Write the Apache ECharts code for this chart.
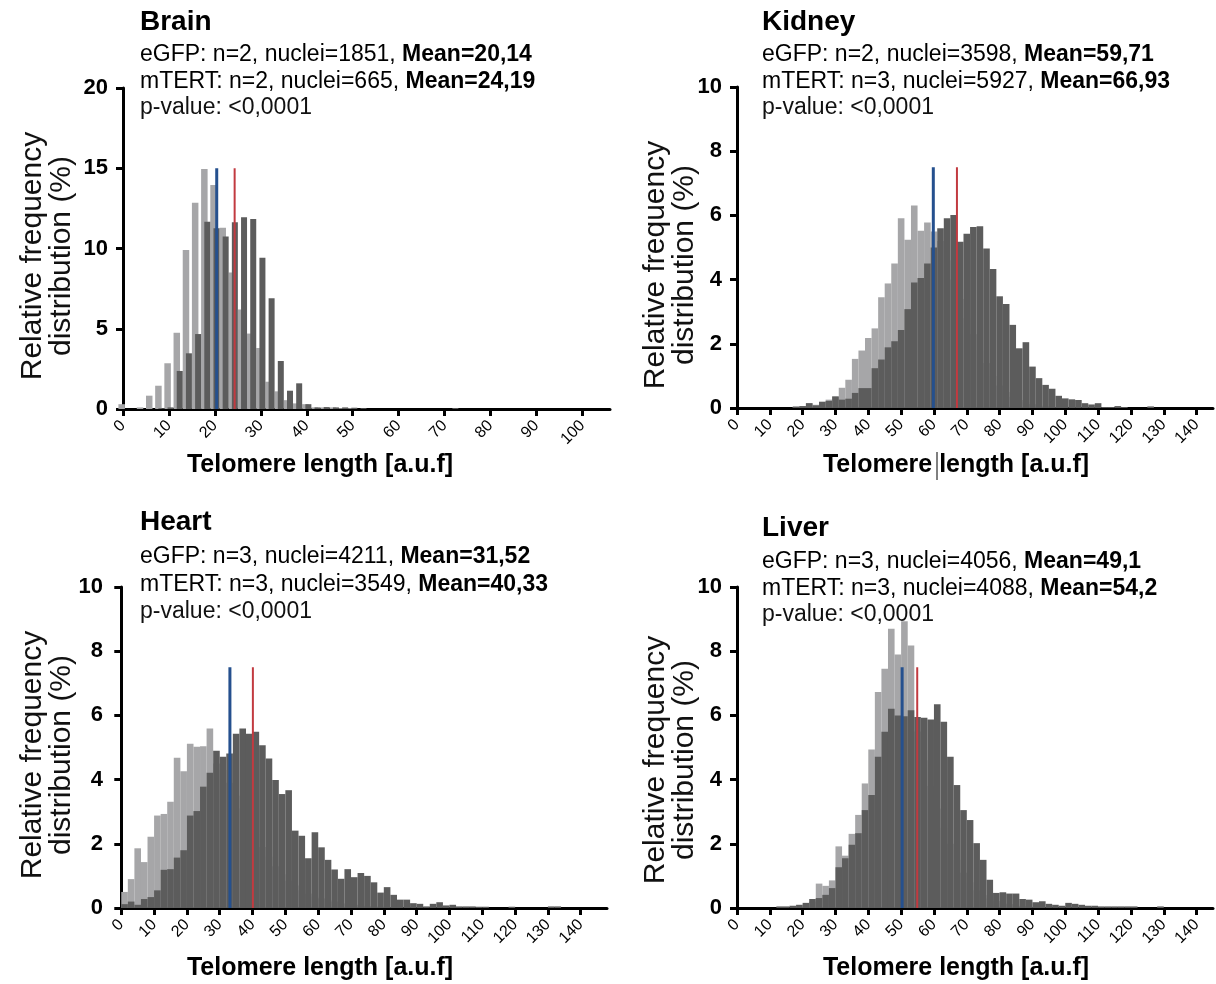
<!DOCTYPE html>
<html><head><meta charset="utf-8">
<script src="https://cdn.jsdelivr.net/npm/echarts@6/dist/echarts.min.js"></script>
<style>html,body{margin:0;padding:0;background:#fff}#c{width:1216px;height:984px}</style>
</head><body><div id="c"></div>
<script>
// ---------- DATA ----------
const brainTicks = [0,10,20,30,40,50,60,70,80,90,100];
const organTicks = [0,10,20,30,40,50,60,70,80,90,100,110,120,130,140];

const brainBins = [0,2,4,6,8,10,12,14,16,18,20,22,24,26,28,30,32,34,36,38,40,42,44,46,48,50,52,54,56,58,60,62,64,66,68,70,72,74];
const brainEGFP = [0.3,0,0.1,0.83,1.45,2.85,4.75,9.9,12.85,14.95,13.95,11.3,8.5,6.2,4.7,3.8,1.7,1.1,0.55,0.35,0.3,0.1,0.1,0.1,0.05,0.05,0,0,0,0,0,0,0,0,0,0,0,0];
const brainMTERT = [0,0,0,0,0.05,0.1,2.37,3.47,4.67,11.67,11.26,10.74,11.63,11.94,11.84,9.43,6.9,2.99,1.14,1.6,0.3,0.1,0.12,0.1,0.1,0.08,0.05,0,0,0,0,0,0,0,0,0,0.06,0];

const kidneyBins = [2,4,6,8,10,12,14,16,18,20,22,24,26,28,30,32,34,36,38,40,42,44,46,48,50,52,54,56,58,60,62,64,66,68,70,72,74,76,78,80,82,84,86,88,90,92,94,96,98,100,102,104,106,108,110,112,114,116,118,120,122,124,126,128,130,132,134,136,138,140,142,144];
const kidneyEGFP = [0,0,0,0,0,0,0,0,
  0.05,0.06,0.15,0.1,0.2,0.26,0.36,0.63,0.88,1.53,1.79,2.18,2.48,3.45,3.88,4.5,5.91,5.24,6.31,5.52,5.78,5.5,
  5.2,4.6,4.0,3.4,2.8,2.3,1.8,1.4,1.0,0.7,0.5,0.35,0.25,0.18,0.12,0.08,0.05,0.03,
  0,0,0,0,0,0,0,0,0,0,0,0,0,0,0,0,0,0,0,0,0,0,0,0];
const kidneyMTERT = [0,0,0,0,0,0,0,0,
  0.04,0.06,0.15,0.08,0.19,0.22,0.36,0.26,0.29,0.47,0.62,0.62,1.24,1.51,1.89,2.08,2.43,3.08,3.91,4.05,4.5,5.0,
  5.6,5.91,6.01,5.18,5.43,5.64,5.66,4.97,4.33,3.48,3.24,2.59,1.86,2.05,1.29,0.93,0.72,0.6,
  0.38,0.3,0.27,0.25,0.15,0.11,0.15,0.03,0.03,0.06,0.03,0,0,0,0.05,0,0,0,0,0,0,0,0,0];

const heartBins = [1,3,5,7,9,11,13,15,17,19,21,23,25,27,29,31,33,35,37,39,41,43,45,47,49,51,53,55,57,59,61,63,65,67,69,71,73,75,77,79,81,83,85,87,89,91,93,95,97,99,101,103,105,107,109,111,113,115,117,119,121,123,125,127,129,131,133,135,137,139,141,143,145,147];
const heartEGFP = [0.5,0.9,1.86,1.43,2.22,2.88,2.93,3.31,4.68,4.26,5.12,5.02,5.04,5.59,
  4.5,4.3,3.9,3.5,3.1,2.7,2.3,1.9,1.6,1.3,1.05,0.85,0.7,0.55,0.45,0.35,0.3,0.25,0.2,0.15,0.12,0.1,0.08,0.06,0.05,0.04,0.03,
  0,0,0,0,0,0,0,0,0,0,0,0,0,0,0,0,0,0,0,0,0,0,0,0,0,0,0,0,0,0,0,0,0];
const heartMTERT = [0.12,0.2,0.1,0.28,0.34,0.55,1.19,1.21,1.57,1.8,2.88,3.02,3.78,4.21,4.9,4.71,4.81,5.43,5.59,5.43,5.49,5.07,4.66,3.99,3.55,3.67,2.41,2.25,1.55,2.36,1.89,1.5,1.2,0.91,1.21,0.96,1.09,1.0,0.8,0.48,0.65,0.41,0.26,0.26,0.15,0.13,0.05,0.13,0.18,0.08,0.1,0.05,0.05,0.05,0.04,0.04,0,0,0,0.04,0,0,0,0,0,0.05,0.05,0,0,0,0,0,0,0];

const liverBins = [1,3,5,7,9,11,13,15,17,19,21,23,25,27,29,31,33,35,37,39,41,43,45,47,49,51,53,55,57,59,61,63,65,67,69,71,73,75,77,79,81,83,85,87,89,91,93,95,97,99,101,103,105,107,109,111,113,115,117,119,121,123,125,127,129,131,133,135,137,139,141,143];
const liverEGFP = [0,0,0,0,0,0,0,0,0,
  0.05,0.1,0.2,0.76,0.69,0.86,1.92,1.63,2.31,2.9,3.88,4.94,6.73,7.45,8.7,7.9,8.93,8.18,5.5,4.6,3.8,3.1,2.5,2.0,1.5,1.1,0.8,0.55,0.4,0.3,0.22,0.16,0.12,0.08,0.06,0.04,
  0,0,0,0,0,0,0,0,0,0,0,0,0,0,0,0,0,0,0,0,0,0,0,0,0,0,0];
const liverMTERT = [0,0,0,0,0,0,
  0.05,0.05,0.07,0.1,0.16,0.28,0.31,0.41,0.62,1.27,1.55,1.97,2.33,3.05,3.52,4.71,5.49,6.21,6.0,5.97,6.16,5.95,5.93,5.87,6.35,5.8,4.71,3.83,3.05,2.74,2.02,1.5,0.88,0.47,0.49,0.45,0.45,0.28,0.26,0.18,0.21,0.13,0.1,0.07,0.16,0.13,0.1,0.07,0.07,0.05,0.05,0.05,0.05,0.05,0.05,
  0,0,0,0.05,0,0,0,0,0,0,0];

// mean marker lines as drawn: [eGFP x, mTERT x], and their top
const brainMeanLines = [20.4, 24.3];
const kidneyMeanLines = [59.8, 67.0];
const heartMeanLines = [33.1, 40.1];
const liverMeanLines = [50.3, 54.9];
const brainLineTop = 15;
const organLineTop = 7.5;

const panelNames = ['Brain','Kidney','Heart','Liver'];
const eGFPInfo = [['2','1851','20,14'],['2','3598','59,71'],['3','4211','31,52'],['3','4056','49,1']];
const mTERTInfo = [['2','665','24,19'],['3','5927','66,93'],['3','3549','40,33'],['3','4088','54,2']];
const pValueText = 'p-value: <0,0001';
const xTitle = 'Telomere length [a.u.f]';
const yTitle = 'Relative frequency\ndistribution (%)';

// ---------- CHART ----------
const FONT = 'Liberation Sans, Arial, sans-serif';
const LIGHT = '#a6a6a8', DARK = '#5c5c5c', BLUE = '#25508e', RED = '#c23a40';

const panels = [
  {bins: brainBins, e: brainEGFP, m: brainMTERT, lines: brainMeanLines, top: brainLineTop,
   grid:{left:123, top:88, width:487, height:321}, xmin:0, xmax:106, ymax:20, yint:5, ticks:brainTicks,
   bw:[6.5,6.0], gap:'-51%'},
  {bins: kidneyBins, e: kidneyEGFP, m: kidneyMTERT, lines: kidneyMeanLines, top: organLineTop,
   grid:{left:737, top:87, width:476, height:321}, xmin:0, xmax:145, ymax:10, yint:2, ticks:organTicks,
   bw:[6.6,6.6], gap:'-100%'},
  {bins: heartBins, e: heartEGFP, m: heartMTERT, lines: heartMeanLines, top: organLineTop,
   grid:{left:118, top:587, width:489, height:321}, xmin:-1, xmax:148, ymax:10, yint:2, ticks:organTicks,
   bw:[6.6,6.6], gap:'-100%'},
  {bins: liverBins, e: liverEGFP, m: liverMTERT, lines: liverMeanLines, top: organLineTop,
   grid:{left:737, top:587, width:476, height:321}, xmin:0, xmax:145, ymax:10, yint:2, ticks:organTicks,
   bw:[6.6,6.6], gap:'-100%'}
];

const grids = [], xAxes = [], yAxes = [], series = [];
panels.forEach((p, i) => {
  grids.push(Object.assign({containLabel:false}, p.grid));
  xAxes.push({
    gridIndex:i, type:'value', min:p.xmin, max:p.xmax,
    axisLine:{show:true, onZero:false, lineStyle:{color:'#000', width:3}},
    axisTick:{show:true, customValues:p.ticks, length:7, lineStyle:{color:'#000', width:3}},
    axisLabel:{show:true, customValues:p.ticks, rotate:45, fontSize:16, color:'#000', fontFamily:FONT, margin:14},
    splitLine:{show:false}
  });
  yAxes.push({
    gridIndex:i, type:'value', min:0, max:p.ymax, interval:p.yint,
    axisLine:{show:true, lineStyle:{color:'#000', width:3}},
    axisTick:{show:true, length:7, lineStyle:{color:'#000', width:3}},
    axisLabel:{show:true, fontSize:22, fontWeight:'bold', color:'#000', fontFamily:FONT, margin:15},
    splitLine:{show:false}
  });
  series.push({
    type:'bar', xAxisIndex:i, yAxisIndex:i, barWidth:p.bw[0], barGap:p.gap,
    itemStyle:{color:LIGHT}, data:p.bins.map((b,k)=>[b, p.e[k]]), z:2
  });
  series.push({
    type:'bar', xAxisIndex:i, yAxisIndex:i, barWidth:p.bw[1], barGap:p.gap,
    itemStyle:{color:DARK}, data:p.bins.map((b,k)=>[b, p.m[k]]), z:2
  });
  series.push({
    type:'line', xAxisIndex:i, yAxisIndex:i, symbol:'none', z:5,
    lineStyle:{color:BLUE, width:3}, data:[[p.lines[0],0],[p.lines[0],p.top]]
  });
  series.push({
    type:'line', xAxisIndex:i, yAxisIndex:i, symbol:'none', z:5,
    lineStyle:{color:RED, width:2}, data:[[p.lines[1],0],[p.lines[1],p.top]]
  });
});

// text blocks
const textPos = [
  {x:140, title:22, l1:55, l2:82, l3:108, xt:[320,465], yt:[47,256]},
  {x:762, title:22, l1:55, l2:82, l3:108, xt:[956,465], yt:[670,265]},
  {x:140, title:522, l1:557, l2:585, l3:612, xt:[320,968], yt:[47,755]},
  {x:762, title:528, l1:562, l2:589, l3:615, xt:[956,968], yt:[670,760]}
];
const rich = {
  n:{fontSize:23, fontFamily:FONT, color:'#111'},
  b:{fontSize:23, fontFamily:FONT, fontWeight:'bold', color:'#111'}
};
const graphics = [];
panelNames.forEach((name, i) => {
  const t = textPos[i];
  graphics.push({type:'text', x:t.x, y:t.title, style:{text:name, font:'bold 28px '+FONT, fill:'#000', textVerticalAlign:'middle'}});
  graphics.push({type:'text', x:t.x, y:t.l1, style:{
    text:'{n|eGFP: n='+eGFPInfo[i][0]+', nuclei='+eGFPInfo[i][1]+', }{b|Mean='+eGFPInfo[i][2]+'}', rich:rich, verticalAlign:'middle'}});
  graphics.push({type:'text', x:t.x, y:t.l2, style:{
    text:'{n|mTERT: n='+mTERTInfo[i][0]+', nuclei='+mTERTInfo[i][1]+', }{b|Mean='+mTERTInfo[i][2]+'}', rich:rich, verticalAlign:'middle'}});
  graphics.push({type:'text', x:t.x, y:t.l3, style:{text:pValueText, font:'23px '+FONT, fill:'#111', verticalAlign:'middle'}});
  graphics.push({type:'text', x:t.xt[0], y:t.xt[1], style:{text:xTitle, font:'bold 25px '+FONT, fill:'#000', align:'center', verticalAlign:'middle'}});
  graphics.push({type:'text', x:t.yt[0], y:t.yt[1], rotation:Math.PI/2, style:{text:yTitle, font:'30px '+FONT, fill:'#111', align:'center', verticalAlign:'middle', lineHeight:29}});
});
// stray cursor mark between the words of the kidney axis title
graphics.push({type:'line', shape:{x1:937, y1:452, x2:937, y2:480}, style:{stroke:'#000', lineWidth:1}});

const chart = echarts.init(document.getElementById('c'), null, {renderer:'canvas'});
chart.setOption({
  animation:false, backgroundColor:'#fff',
  grid:grids, xAxis:xAxes, yAxis:yAxes, series:series, graphic:graphics
});
</script>
</body></html>
